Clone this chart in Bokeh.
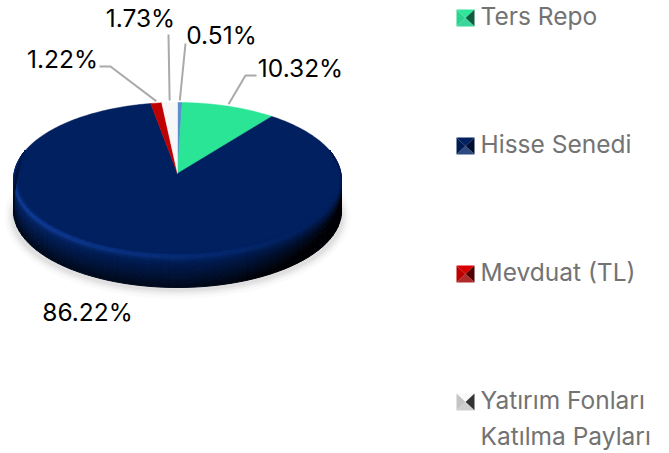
import math
import numpy as np
from bokeh.plotting import figure
from bokeh.models import Range1d
from bokeh.core.properties import value
from bokeh.embed import file_html
from bokeh.resources import INLINE

# ---- data (clockwise from 12 o'clock)
slice_names = ["Yatırım Fonu", "Ters Repo", "Hisse Senedi", "Mevduat (TL)", "Yatırım Fonları Katılma Payları"]
slice_values = [0.51, 10.32, 86.22, 1.22, 1.73]
slice_labels = ["0.51%", "10.32%", "86.22%", "1.22%", "1.73%"]
slice_colors = ["#5b8fd0", "#2ae596", "#00205f", "#c00000", "#f7f7f7"]
legend_rows = [["Ters Repo"], ["Hisse Senedi"], ["Mevduat (TL)"], ["Yatırım Fonları", "Katılma Payları"]]
legend_faces = [
    ["#30e69a", "#0c5c3e", "#39d69b", "#2bd48e"],
    ["#00205f", "#000f30", "#2c4a80", "#001c55"],
    ["#d80000", "#500000", "#b02a2a", "#bc0000"],
    ["#fafafa", "#333333", "#cfcfcf", "#c4c4c4"],
]

# ---- layout
CX, APEX_Y, EY, RX, RY, DEPTH, SQUASH = 177, 173, 178.5, 164, 76.5, 32, 0.49
LEADER = {0: [(185, 43)], 1: [(245, 75), (256, 75)], 3: [(110, 66), (99, 66)], 4: [(168, 34)]}
LABEL_POS = {0: (221, 34), 1: (300, 67), 2: (87, 311), 3: (62, 58), 4: (140, 17)}
LEG_X, LEG_TEXT_X, LEG_W, LEG_H = 456, 480, 18, 17
LEG_TOPS = [9, 137, 265, 393]
LEG_TEXT_Y = [[15], [143], [271], [399, 435]]


def rim(t):
    """Where the ray at pie angle t leaves the tilted top ellipse."""
    dx, dy = math.sin(t), -SQUASH * math.cos(t)
    oy = APEX_Y - EY
    a = (dx / RX) ** 2 + (dy / RY) ** 2
    b = 2 * oy * dy / RY ** 2
    c = (oy / RY) ** 2 - 1
    k = (-b + math.sqrt(b * b - 4 * a * c)) / (2 * a)
    return CX + k * dx, APEX_Y + k * dy


p = figure(width=669, height=453, output_backend="svg", toolbar_location=None,
           x_range=Range1d(0, 669), y_range=Range1d(453, 0), min_border=0)
p.axis.visible = False
p.grid.visible = False
p.outline_line_color = None
p.background_fill_color = "#ffffff"

# soft shadow under the disc
for grow, alpha in [(8, 0.04), (5, 0.06), (3, 0.07), (1, 0.09)]:
    p.ellipse(x=[CX], y=[216], width=[2 * (RX + 1 + grow)], height=[2 * (74 + grow)],
              fill_color="#808080", fill_alpha=alpha, line_color=None)

# top face slices
total = sum(slice_values)
acc = 0.0
edges = []
for v, col in zip(slice_values, slice_colors):
    a0 = acc / total * 2 * math.pi
    acc += v
    a1 = acc / total * 2 * math.pi
    edges.append((a0, a1))
    steps = max(2, int((a1 - a0) / 0.02))
    rimpts = [rim(a) for a in np.linspace(a0, a1, steps)]
    p.patch([CX] + [q[0] for q in rimpts], [APEX_Y] + [q[1] for q in rimpts],
            fill_color=col, line_color=col, line_width=0.5)

# side wall + bevel of the disc
base = np.array([0x00, 0x20, 0x5f], float)
n_ang, n_row = 72, 16
xs, ys, cols = [], [], []
ts = np.linspace(math.radians(68), math.radians(292), n_ang + 1)
us = np.linspace(0, 1, n_row + 1)


def taper(t):
    return min(1.0, max(0.0, (-math.cos(t) + 0.37) / 0.37))


def surf(t, u):
    # first 22% of the strip lies on the top face (bevel), the rest is the wall
    if u < 0.22:
        r, d = 0.95 + 0.05 * u / 0.22, 0.0
    else:
        r, d = 1.0, DEPTH * (u - 0.22) / 0.78 * taper(t)
    return CX + RX * r * math.sin(t), EY - RY * r * math.cos(t) + d


for i in range(n_ang):
    for j in range(n_row):
        t0, t1, u0, u1 = ts[i], ts[i + 1], us[j], us[j + 1]
        pts = [surf(t0, u0), surf(t1, u0), surf(t1, u1), surf(t0, u1)]
        tm, um = (t0 + t1) / 2, (u0 + u1) / 2
        sx = math.sin(tm)
        wall = max(0.0, (um - 0.2) / 0.8)
        right = max(0.0, sx)
        # darker with depth, and much darker towards the right-hand side
        m = 1.0 - wall ** 1.2 * (0.72 + 0.22 * right) - 0.55 * right ** 2 * min(1.0, wall * 2.5)
        m = 1.0 - (1.0 - max(m, 0.06)) * taper(tm) ** 0.7
        glow = math.exp(-((um - 0.25) / 0.09) ** 2) * max(0.0, 0.5 - 0.55 * sx) * 0.6
        glow2 = max(0.0, -sx) ** 2 * 0.22 * min(1.0, wall * 3) * (1 - wall)
        c = base * m + np.array([24, 44, 90]) * (glow + glow2) * taper(tm)
        c = np.clip(c, 0, 255).astype(int)
        xs.append([q[0] for q in pts])
        ys.append([q[1] for q in pts])
        cols.append("#%02x%02x%02x" % tuple(c))
p.patches(xs, ys, fill_color=cols, line_color=cols, line_width=1.0)

# leader lines, from each slice's rim to its label
for idx, elbows in LEADER.items():
    a0, a1 = edges[idx]
    sx0, sy0 = rim((a0 + a1) / 2)
    p.line([sx0] + [e[0] for e in elbows], [sy0 - 2] + [e[1] for e in elbows],
           line_color="#aaaaaa", line_width=2)

# data labels
for idx, (lx, ly) in LABEL_POS.items():
    p.text(x=[lx], y=[ly], text=[slice_labels[idx]], text_font=value("Inter"),
           text_font_size="24.5px", text_color="#000000", text_align="center",
           text_baseline="middle")

# legend
for rows, top, faces, text_ys in zip(legend_rows, LEG_TOPS, legend_faces, LEG_TEXT_Y):
    l, r, t, b = LEG_X, LEG_X + LEG_W, top, top + LEG_H
    mx, my = (l + r) / 2, (t + b) / 2
    tri_x = [[l, r, mx], [r, r, mx], [r, l, mx], [l, l, mx]]
    tri_y = [[t, t, my], [t, b, my], [b, b, my], [b, t, my]]
    p.patches(tri_x, tri_y, fill_color=faces, line_color=None)
    for label, ty in zip(rows, text_ys):
        p.text(x=[LEG_TEXT_X], y=[ty], text=[label], text_font=value("Inter"),
               text_font_size="24.5px", text_color="#737373", text_align="left",
               text_baseline="middle")

open("out.html", "w").write(file_html(p, INLINE))
